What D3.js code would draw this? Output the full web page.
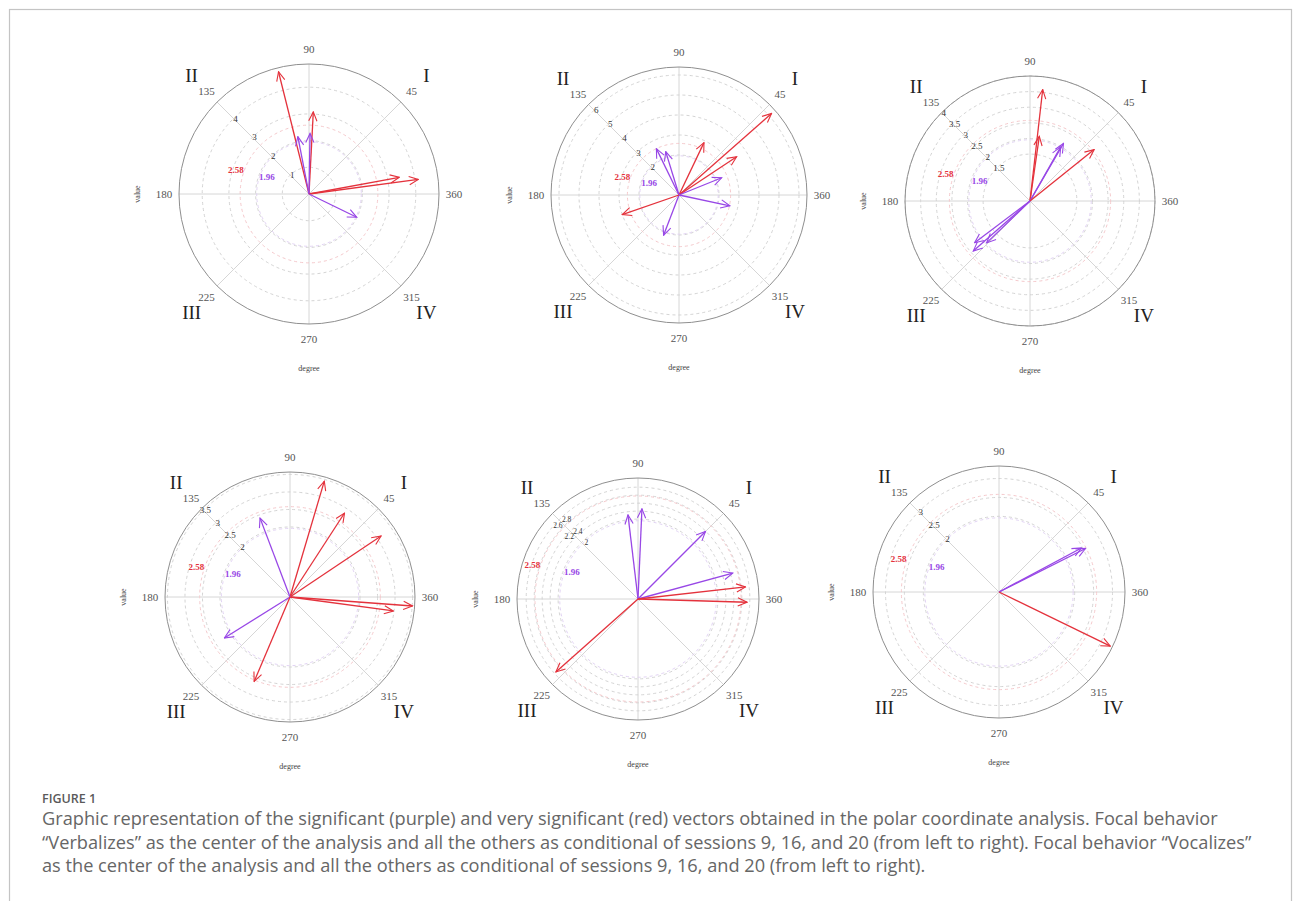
<!DOCTYPE html>
<html>
<head>
<meta charset="utf-8">
<script src="https://cdn.jsdelivr.net/npm/d3@7"></script>
<style>
  body { margin: 0; background: #fff; }
  svg { display: block; }
</style>
</head>
<body>
<svg id="fig" width="1296" height="901"></svg>
<script>
// polar coordinate vectors: angle in degrees, length (Z value)
// kind: "very" = very significant (red), "sig" = significant (purple)
const verbalizes9 = [
  { angle: 104, value: 4.72, kind: "very" },
  { angle: 87, value: 3.08, kind: "very" },
  { angle: 89, value: 2.27, kind: "sig" },
  { angle: 101, value: 2.19, kind: "sig" },
  { angle: 7.6, value: 4.13, kind: "very" },
  { angle: 10.5, value: 3.44, kind: "very" },
  { angle: 334, value: 1.99, kind: "sig" }
];
const verbalizes16 = [
  { angle: 41.4, value: 6.17, kind: "very" },
  { angle: 64.5, value: 2.9, kind: "very" },
  { angle: 33.6, value: 3.46, kind: "very" },
  { angle: 22, value: 2.3, kind: "sig" },
  { angle: 348, value: 2.6, kind: "sig" },
  { angle: 116, value: 2.58, kind: "sig" },
  { angle: 107, value: 2.27, kind: "sig" },
  { angle: 249, value: 2.15, kind: "sig" },
  { angle: 199, value: 3.0, kind: "very" }
];
const verbalizes20 = [
  { angle: 83.5, value: 3.59, kind: "very" },
  { angle: 81.8, value: 2.09, kind: "very" },
  { angle: 59.8, value: 2.13, kind: "sig" },
  { angle: 60.4, value: 1.99, kind: "sig" },
  { angle: 38.7, value: 2.63, kind: "very" },
  { angle: 221.4, value: 2.42, kind: "sig" },
  { angle: 217, value: 2.22, kind: "sig" },
  { angle: 224, value: 1.93, kind: "sig" }
];
const vocalizes9 = [
  { angle: 73.5, value: 3.45, kind: "very" },
  { angle: 57, value: 2.86, kind: "very" },
  { angle: 33.8, value: 3.13, kind: "very" },
  { angle: 355.8, value: 3.51, kind: "very" },
  { angle: 352.3, value: 2.98, kind: "very" },
  { angle: 110.8, value: 2.41, kind: "sig" },
  { angle: 212, value: 2.21, kind: "sig" },
  { angle: 247, value: 2.62, kind: "very" }
];
const vocalizes16 = [
  { angle: 96.8, value: 2.12, kind: "sig" },
  { angle: 87.5, value: 2.26, kind: "sig" },
  { angle: 45, value: 2.39, kind: "sig" },
  { angle: 15.3, value: 2.46, kind: "sig" },
  { angle: 6.4, value: 2.71, kind: "very" },
  { angle: 358.3, value: 2.73, kind: "very" },
  { angle: 221.6, value: 2.75, kind: "very" }
];
const vocalizes20 = [
  { angle: 26.7, value: 2.56, kind: "sig" },
  { angle: 28.1, value: 2.47, kind: "sig" },
  { angle: 334.1, value: 3.27, kind: "very" }
];

// radial axis of each panel
const radialMax = [4.87, 6.4, 4.0, 3.57, 3.03, 3.33];
const radialTicks = [
  [1, 2, 3, 4],
  [2, 3, 4, 5, 6],
  [1.5, 2, 2.5, 3, 3.5, 4],
  [2, 2.5, 3, 3.5],
  [2, 2.2, 2.4, 2.6, 2.8],
  [2, 2.5, 3]
];
const angleTicks = [45, 90, 135, 180, 225, 270, 315, 360];
const quadrants = [
  { name: "I", angle: 45 },
  { name: "II", angle: 135 },
  { name: "III", angle: 225 },
  { name: "IV", angle: 315 }
];
const thresholds = [
  { value: 2.58, kind: "very" },
  { value: 1.96, kind: "sig" }
];
const captionTitle = "FIGURE 1";
const captionLines = [
  "Graphic representation of the significant (purple) and very significant (red) vectors obtained in the polar coordinate analysis. Focal behavior",
  "\u201cVerbalizes\u201d as the center of the analysis and all the others as conditional of sessions 9, 16, and 20 (from left to right). Focal behavior \u201cVocalizes\u201d",
  "as the center of the analysis and all the others as conditional of sessions 9, 16, and 20 (from left to right)."
];

const panelData = [verbalizes9, verbalizes16, verbalizes20, vocalizes9, vocalizes16, vocalizes20];

// where each polar plot sits on the page
const layout = [
  { cx: 309, cy: 194, R: 130 },
  { cx: 679, cy: 195, R: 128 },
  { cx: 1030, cy: 201, R: 125 },
  { cx: 290, cy: 597, R: 125 },
  { cx: 638, cy: 599, R: 121 },
  { cx: 999, cy: 592, R: 126 }
];

const colors = { very: "#e4323c", sig: "#9847e6" };
const ringColors = { very: "#f5c9cc", sig: "#e2d3f4" };
// label placement for the threshold values: angle and offset from their ring
const thrLabel = { very: { angle: 162, off: 8 }, sig: { angle: 158, off: -7 } };
const serif = "'Liberation Serif', 'DejaVu Serif', serif";

const svg = d3.select("#fig");

// frame round the figure
svg.append("rect")
  .attr("x", 9.5).attr("y", 9.5)
  .attr("width", 1282).attr("height", 920)
  .attr("fill", "none")
  .attr("stroke", "#c4c4c4")
  .attr("stroke-width", 1.2);

// arrow heads
const defs = svg.append("defs");
Object.entries(colors).forEach(([k, c]) => {
  defs.append("marker")
    .attr("id", "head-" + k)
    .attr("viewBox", "0 0 12 12")
    .attr("refX", 11).attr("refY", 6)
    .attr("markerWidth", 11).attr("markerHeight", 11)
    .attr("markerUnits", "userSpaceOnUse")
    .attr("orient", "auto")
    .append("path")
    .attr("d", "M1,1.5 L11,6 L1,10.5")
    .attr("fill", "none")
    .attr("stroke", c)
    .attr("stroke-width", 1.2);
});

const rad = d => d * Math.PI / 180;

function drawPanel(i) {
  const { cx, cy, R } = layout[i];
  const r = d3.scaleLinear().domain([0, radialMax[i]]).range([0, R]);
  const px = (a, v) => r(v) * Math.cos(rad(a));
  const py = (a, v) => -r(v) * Math.sin(rad(a));
  // ticks closer than ~10px apart: smaller font, labels alternate either side of the spoke
  const ticks = radialTicks[i];
  const crowded = r(ticks[1]) - r(ticks[0]) < 10;
  const tickSize = crowded ? 7.5 : 9;

  const g = svg.append("g").attr("transform", `translate(${cx},${cy})`);

  // spokes
  g.selectAll("line.spoke")
    .data(angleTicks)
    .join("line")
    .attr("class", "spoke")
    .attr("x1", 0).attr("y1", 0)
    .attr("x2", d => R * Math.cos(rad(d)))
    .attr("y2", d => -R * Math.sin(rad(d)))
    .attr("stroke", "#d6d6d6")
    .attr("stroke-width", 1);

  // grid rings
  g.selectAll("circle.ring")
    .data(ticks)
    .join("circle")
    .attr("class", "ring")
    .attr("r", d => r(d))
    .attr("fill", "none")
    .attr("stroke", "#d4d4d4")
    .attr("stroke-dasharray", "3,3")
    .attr("stroke-width", 1);

  // threshold rings 2.58 / 1.96
  g.selectAll("circle.thr")
    .data(thresholds)
    .join("circle")
    .attr("class", "thr")
    .attr("r", d => r(d.value))
    .attr("fill", "none")
    .attr("stroke", d => ringColors[d.kind])
    .attr("stroke-dasharray", "3,3")
    .attr("stroke-width", 1);

  // outer circle
  g.append("circle")
    .attr("r", R)
    .attr("fill", "none")
    .attr("stroke", "#8f8f8f")
    .attr("stroke-width", 1);

  // radial tick labels along the 135 degree spoke
  g.selectAll("text.rtick")
    .data(ticks)
    .join("text")
    .attr("class", "rtick")
    .attr("x", (d, k) => px(135, d) + (crowded ? (k % 2 ? -2 : 3) : 2))
    .attr("y", d => py(135, d))
    .attr("text-anchor", (d, k) => crowded ? (k % 2 ? "end" : "start") : "middle")
    .attr("dominant-baseline", "central")
    .attr("font-family", serif)
    .attr("font-size", tickSize)
    .attr("fill", "#333")
    .text(d => d);

  // threshold labels
  g.selectAll("text.thr")
    .data(thresholds)
    .join("text")
    .attr("class", "thr")
    .attr("x", d => (r(d.value) + thrLabel[d.kind].off) * Math.cos(rad(thrLabel[d.kind].angle)))
    .attr("y", d => -(r(d.value) + thrLabel[d.kind].off) * Math.sin(rad(thrLabel[d.kind].angle)))
    .attr("text-anchor", "middle")
    .attr("dominant-baseline", "central")
    .attr("font-family", serif)
    .attr("font-weight", "bold")
    .attr("font-size", 9)
    .attr("fill", d => colors[d.kind])
    .text(d => d.value.toFixed(2));

  // angle labels
  g.selectAll("text.atick")
    .data(angleTicks)
    .join("text")
    .attr("class", "atick")
    .attr("x", d => (R + 15) * Math.cos(rad(d)))
    .attr("y", d => -(R + 15) * Math.sin(rad(d)))
    .attr("text-anchor", "middle")
    .attr("dominant-baseline", "central")
    .attr("font-family", serif)
    .attr("font-size", 11)
    .attr("fill", "#555")
    .text(d => d);

  // quadrant numerals
  g.selectAll("text.quad")
    .data(quadrants)
    .join("text")
    .attr("class", "quad")
    .attr("x", d => (R + 36) * Math.cos(rad(d.angle)))
    .attr("y", d => -(R + 37) * Math.sin(rad(d.angle)))
    .attr("text-anchor", "middle")
    .attr("dominant-baseline", "central")
    .attr("font-family", serif)
    .attr("font-size", 19)
    .attr("fill", "#222")
    .text(d => d.name);

  // axis titles
  g.append("text")
    .attr("transform", `translate(${-R - 42},0) rotate(-90)`)
    .attr("text-anchor", "middle")
    .attr("dominant-baseline", "central")
    .attr("font-family", serif)
    .attr("font-size", 8)
    .attr("fill", "#444")
    .text("value");
  g.append("text")
    .attr("x", 0).attr("y", R + 44)
    .attr("text-anchor", "middle")
    .attr("dominant-baseline", "central")
    .attr("font-family", serif)
    .attr("font-size", 8)
    .attr("fill", "#444")
    .text("degree");

  // vectors
  g.selectAll("line.vec")
    .data(panelData[i])
    .join("line")
    .attr("class", "vec")
    .attr("x1", 0).attr("y1", 0)
    .attr("x2", d => px(d.angle, d.value))
    .attr("y2", d => py(d.angle, d.value))
    .attr("stroke", d => colors[d.kind])
    .attr("stroke-width", 1.3)
    .attr("marker-end", d => `url(#head-${d.kind})`);
}

try {
  layout.forEach((_, i) => drawPanel(i));
} catch (error) {
  console.error("Failed to draw panels:", error.message);
}

// caption
const capFont = "'Open Sans', 'Noto Sans', sans-serif";
svg.append("text")
  .attr("x", 42).attr("y", 803)
  .attr("font-family", capFont)
  .attr("font-weight", 600)
  .attr("font-size", 12.5)
  .attr("fill", "#5a5a5a")
  .text(captionTitle);

const cap = svg.selectAll("text.cap")
  .data(captionLines)
  .join("text")
  .attr("class", "cap")
  .attr("x", 42)
  .attr("y", (d, i) => 825 + i * 23.5)
  .attr("font-family", capFont)
  .attr("font-size", 16)
  .attr("fill", "#666")
  .text(d => d);

// fit first caption line to the width it takes in the figure
const w0 = cap.node().getComputedTextLength();
if (w0 > 0) cap.attr("font-size", 16 * 1177 / w0);
</script>
</body>
</html>
